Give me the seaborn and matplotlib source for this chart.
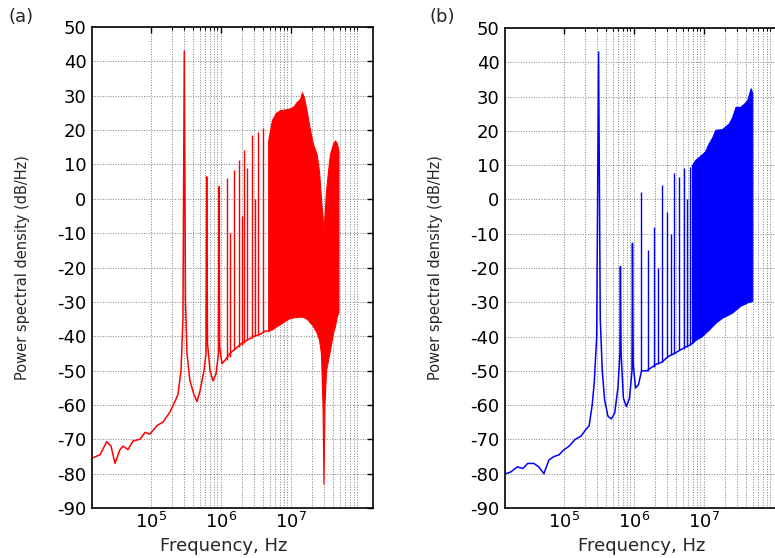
import matplotlib
matplotlib.use('Agg')
import matplotlib.pyplot as plt
import seaborn as sns
import numpy as np
from matplotlib.ticker import FixedLocator, NullFormatter, FixedFormatter

# ---- (a) red spectrum ----
red_base_freq = [1.45e4, 1.89e4, 2.35e4, 2.71e4, 3.09e4, 3.64e4, 4.02e4, 4.74e4, 5.59e4,
                 7.03e4, 8.29e4, 9.77e4, 1.23e5, 1.50e5, 1.89e5, 2.22e5, 2.45e5, 2.71e5,
                 2.89e5, 3.02e5, 3.14e5, 3.30e5, 3.64e5, 4.15e5, 4.58e5, 5.06e5, 5.77e5,
                 6.17e5, 6.31e5, 6.48e5, 7.03e5, 7.76e5, 8.57e5, 9.31e5, 9.46e5, 9.68e5,
                 1.044e6, 1.152e6, 1.358e6, 1.655e6, 2.016e6, 2.455e6, 2.99e6, 3.64e6, 4.30e6, 4.77e6]
red_base_db = [-75.5, -74.5, -70.7, -72, -77, -73, -72, -73, -70.5,
               -70, -68, -68.5, -66, -65, -62, -59, -57, -50,
               -35, 43, -30, -45, -53, -57, -59, -56, -50,
               -45, 6.4, -42, -50, -53, -51, -45, 3.5, -43,
               -48, -47, -45, -43.5, -42, -41, -40, -39.5, -38.5, -38.5]
red_spike_freq = [1.219e6, 1.38e6, 1.549e6, 1.845e6, 2.0e6, 2.153e6, 2.415e6, 2.828e6,
                  3.1e6, 3.44e6, 4.06e6]
red_spike_top = [6.0, -10, 8.4, 11.2, -5, 14.2, 9.0, 18.6, 0, 19.5, 20.5]
red_spike_base = [-47, -46, -44, -43, -42.5, -42, -41, -40.5, -40, -39.5, -39]
red_dense_freq = [4.77e6, 5.41e6, 6.16e6, 7.03e6, 8.29e6, 9.77e6, 1.114e7, 1.23e7, 1.358e7,
                  1.45e7, 1.55e7, 1.71e7, 1.89e7, 2.08e7, 2.35e7, 2.54e7, 2.71e7, 2.85e7,
                  2.94e7, 3.04e7, 3.19e7, 3.41e7, 3.64e7, 4.02e7, 4.30e7, 4.58e7, 4.82e7]
red_dense_low = [-38.5, -38, -37.2, -36.5, -35.5, -34.7, -34.5, -34.4, -34.3,
                 -34.3, -34.5, -35, -36, -37, -39, -41, -45, -60,
                 -83, -60, -50, -47, -44, -39, -37, -34, -33]
red_dense_high = [17, 23, 25, 25.8, 26, 26.3, 27, 28.3, 29,
                  31, 29.5, 25, 20, 16, 13, 8, 0, -5,
                  -10, -5, 2, 8, 13, 16, 17, 16, 14]

# ---- (b) blue spectrum ----
blue_base_freq = [1.48e4, 1.75e4, 2.18e4, 2.60e4, 3.06e4, 3.74e4, 4.41e4, 5.21e4, 6.14e4,
                  7.25e4, 8.56e4, 1.01e5, 1.19e5, 1.455e5, 1.774e5, 2.09e5, 2.31e5, 2.55e5,
                  2.73e5, 2.96e5, 3.15e5, 3.33e5, 3.56e5, 3.84e5, 4.30e5, 4.80e5, 5.35e5,
                  5.95e5, 6.36e5, 6.46e5, 6.61e5, 7.13e5, 7.87e5, 8.71e5, 9.46e5, 9.61e5,
                  9.84e5, 1.062e6, 1.172e6, 1.295e6, 1.531e6, 1.803e6, 2.128e6, 2.512e6,
                  3.133e6, 3.74e6, 4.56e6, 5.56e6, 6.35e6, 6.79e6]
blue_base_db = [-80, -79.5, -78, -78.5, -77, -77, -78, -80, -76,
                -75, -74.5, -73, -72, -70, -69, -67, -66, -60,
                -53.6, -40, 43, -35, -50, -58.5, -63.3, -64, -62.3,
                -55, -45, -19.6, -45, -58, -60.4, -58, -50, -12.8,
                -48, -55, -54, -50, -50, -49, -48, -47.5,
                -45.8, -45, -44, -43, -42.5, -42]
blue_spike_freq = [1.265e6, 1.617e6, 1.947e6, 2.2e6, 2.512e6, 3.034e6, 3.4e6, 3.828e6,
                   4.415e6, 5.15e6, 5.8e6, 6.41e6]
blue_spike_top = [2.3, -14.7, -7.9, -20, 4.2, -3.6, -10, 7.6, 6.6, 9.1, 0, 9.6]
blue_spike_base = [-50, -50, -49, -48, -47.5, -46, -45.5, -45, -44, -43.5, -43, -42.5]
blue_dense_freq = [6.79e6, 7.57e6, 9.23e6, 1.045e7, 1.18e7, 1.316e7, 1.468e7, 1.832e7,
                   2.29e7, 2.55e7, 2.85e7, 3.33e7, 3.80e7, 4.20e7, 4.69e7, 4.95e7]
blue_dense_low = [-42, -41, -40, -39, -38, -37, -36, -34.5,
                  -33.5, -33, -32.2, -31, -30.5, -30, -29.8, -29.5]
blue_dense_high = [10, 11.5, 13, 14, 16.4, 18, 20.3, 20.5,
                   22.2, 24, 27, 27, 28, 29, 32.4, 31]

y_ticks = list(range(-90, 51, 10))
x_major = [1e5, 1e6, 1e7]
x_major_labels = ['$10^{5}$', '$10^{6}$', '$10^{7}$']

sns.set_style('white')
plt.rcParams['font.family'] = ['DejaVu Sans']
plt.rcParams['axes.unicode_minus'] = False


def draw_panel(ax, base_f, base_db, spk_f, spk_top, spk_base, d_f, d_low, d_high, color):
    ax.set_xscale('log')
    sns.lineplot(x=base_f, y=base_db, ax=ax, color=color, lw=1.1,
                 estimator=None, sort=False)
    ax.vlines(spk_f, spk_base, spk_top, color=color, lw=1.0)
    ax.fill_between(d_f, d_low, d_high, color=color, edgecolor=color, lw=0.8)

    ax.set_xlim(1.45e4, 1.5e8)
    ax.set_ylim(-90, 50)
    ax.set_yticks(y_ticks)
    ax.xaxis.set_major_locator(FixedLocator(x_major))
    ax.xaxis.set_major_formatter(FixedFormatter(x_major_labels))
    minor = [k * 10.0 ** d for d in (5, 6, 7) for k in range(2, 10)]
    ax.xaxis.set_minor_locator(FixedLocator(minor))
    ax.xaxis.set_minor_formatter(NullFormatter())

    ax.tick_params(which='both', direction='in', top=True, right=True,
                   colors='black', labelsize=13)
    ax.tick_params(which='major', length=4, width=1)
    ax.tick_params(which='minor', length=2.5, width=0.8)
    ax.tick_params(axis='y', pad=4)
    ax.tick_params(axis='x', pad=3)

    ax.grid(True, which='major', ls=':', color='0.5', lw=0.7)
    ax.grid(True, which='minor', axis='x', ls=':', color='0.5', lw=0.7)
    ax.set_axisbelow(True)
    for s in ax.spines.values():
        s.set_color('black')
        s.set_linewidth(1.2)

    ax.set_ylabel('Power spectral density (dB/Hz)', fontsize=10.5)
    ax.yaxis.set_label_coords(-0.222, 0.5)
    ax.set_xlabel('Frequency, Hz', fontsize=13)


fig = plt.figure(figsize=(7.75, 5.58), dpi=100)
ax1 = fig.add_axes([92 / 775, 50 / 558, 281 / 775, 481 / 558])
ax2 = fig.add_axes([505 / 775, 50 / 558, 281 / 775, 480 / 558])

draw_panel(ax1, red_base_freq, red_base_db, red_spike_freq, red_spike_top, red_spike_base,
           red_dense_freq, red_dense_low, red_dense_high, 'red')
draw_panel(ax2, blue_base_freq, blue_base_db, blue_spike_freq, blue_spike_top, blue_spike_base,
           blue_dense_freq, blue_dense_low, blue_dense_high, 'blue')

ax1.xaxis.set_label_coords(0.468, -0.06)
ax2.xaxis.set_label_coords(0.486, -0.06)
ax1.xaxis.label.set_va('top')
ax2.xaxis.label.set_va('top')

fig.text(8 / 775, 1 - 8 / 558, '(a)', fontsize=13, ha='left', va='top')
fig.text(429 / 775, 1 - 8 / 558, '(b)', fontsize=13, ha='left', va='top')

fig.savefig('out.png', dpi=100, facecolor='white')
